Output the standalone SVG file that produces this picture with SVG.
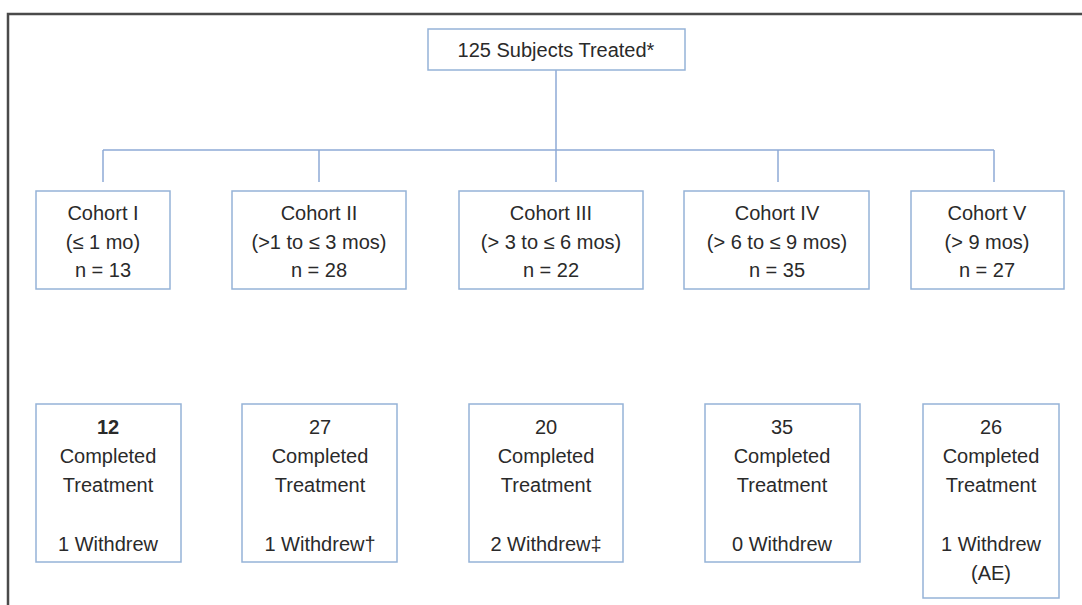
<svg xmlns="http://www.w3.org/2000/svg" width="1082" height="605" viewBox="0 0 1082 605">
<style>
.bg{fill:#ffffff}
.frame{fill:none;stroke:#4a4a4a;stroke-width:2.5}
.box{fill:#ffffff;stroke:#95b3d7;stroke-width:1.5}
.conn{fill:none;stroke:#8eaad6;stroke-width:1.5}
text{font-family:"Liberation Sans",Arial,sans-serif;font-size:20px;fill:#2a2a2a;text-anchor:middle}
.b{font-weight:bold}
</style>
<rect class="bg" x="0" y="0" width="1082" height="605"/>
<path class="frame" d="M8 605 V14 H1082"/>
<g id="connectors">
<path class="conn" d="M556 70 V150 M103 150 H994 M103 150 V182 M319 150 V182 M556 150 V182 M778 150 V182 M994 150 V182"/>
</g>
<g id="top">
<rect class="box" x="428" y="29" width="257" height="41"/>
<text x="556" y="57">125 Subjects Treated*</text>
</g>
<g id="cohort1">
<rect class="box" x="36" y="191" width="134" height="98"/>
<text x="103" y="220">Cohort I</text>
<text x="103" y="249">(≤ 1 mo)</text>
<text x="103" y="277">n = 13</text>
</g>
<g id="cohort2">
<rect class="box" x="232" y="191" width="174" height="98"/>
<text x="319" y="220">Cohort II</text>
<text x="319" y="249">(&gt;1 to ≤ 3 mos)</text>
<text x="319" y="277">n = 28</text>
</g>
<g id="cohort3">
<rect class="box" x="459" y="191" width="184" height="98"/>
<text x="551" y="220">Cohort III</text>
<text x="551" y="249">(&gt; 3 to ≤ 6 mos)</text>
<text x="551" y="277">n = 22</text>
</g>
<g id="cohort4">
<rect class="box" x="684" y="191" width="185" height="98"/>
<text x="777" y="220">Cohort IV</text>
<text x="777" y="249">(&gt; 6 to ≤ 9 mos)</text>
<text x="777" y="277">n = 35</text>
</g>
<g id="cohort5">
<rect class="box" x="911" y="191" width="153" height="98"/>
<text x="987" y="220">Cohort V</text>
<text x="987" y="249">(&gt; 9 mos)</text>
<text x="987" y="277">n = 27</text>
</g>
<g id="result1">
<rect class="box" x="36" y="404" width="145" height="158"/>
<text class="b" x="108" y="434">12</text>
<text x="108" y="463">Completed</text>
<text x="108" y="492">Treatment</text>
<text x="108" y="551">1 Withdrew</text>
</g>
<g id="result2">
<rect class="box" x="242" y="404" width="155" height="158"/>
<text x="320" y="434">27</text>
<text x="320" y="463">Completed</text>
<text x="320" y="492">Treatment</text>
<text x="320" y="551">1 Withdrew†</text>
</g>
<g id="result3">
<rect class="box" x="469" y="404" width="154" height="158"/>
<text x="546" y="434">20</text>
<text x="546" y="463">Completed</text>
<text x="546" y="492">Treatment</text>
<text x="546" y="551">2 Withdrew‡</text>
</g>
<g id="result4">
<rect class="box" x="705" y="404" width="155" height="158"/>
<text x="782" y="434">35</text>
<text x="782" y="463">Completed</text>
<text x="782" y="492">Treatment</text>
<text x="782" y="551">0 Withdrew</text>
</g>
<g id="result5">
<rect class="box" x="923" y="404" width="136" height="194"/>
<text x="991" y="434">26</text>
<text x="991" y="463">Completed</text>
<text x="991" y="492">Treatment</text>
<text x="991" y="551">1 Withdrew</text>
<text x="991" y="580">(AE)</text>
</g>
</svg>
